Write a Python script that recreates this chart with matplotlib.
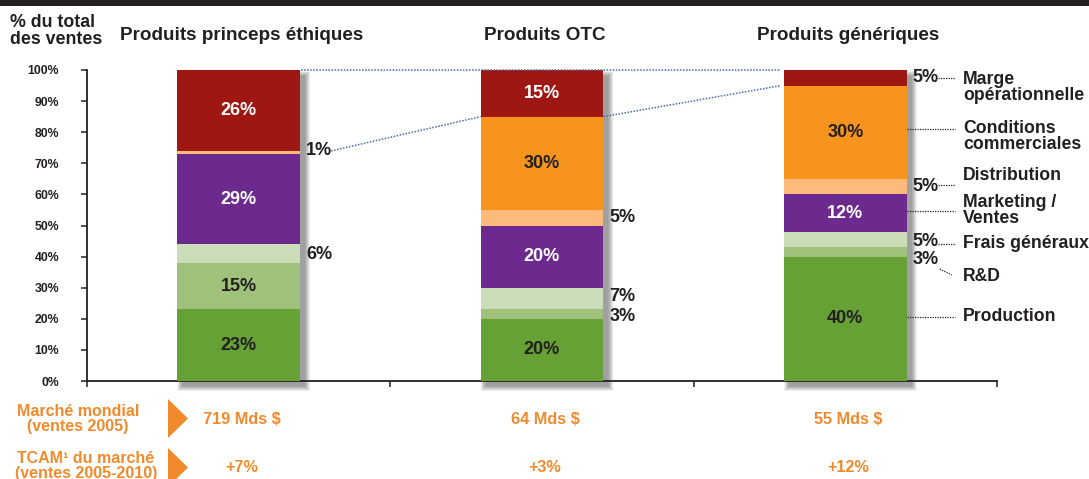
import matplotlib
matplotlib.use('Agg')
import matplotlib.pyplot as plt
import matplotlib.transforms as mtransforms
from matplotlib.patches import Rectangle, Polygon
import numpy as np

plt.rcParams['font.family'] = ['Liberation Sans', 'DejaVu Sans']
plt.rcParams['font.weight'] = 'bold'

# ---------------- data ----------------
categories = ['Produits princeps éthiques', 'Produits OTC', 'Produits génériques']
components = ['Production', 'R&D', 'Frais généraux', 'Marketing /\nVentes',
              'Distribution', 'Conditions\ncommerciales', 'Marge\nopérationnelle']
production = [23, 20, 40]
rnd = [15, 3, 3]
frais_generaux = [6, 7, 5]
marketing = [29, 20, 12]
distribution = [1, 5, 5]
conditions = [0, 30, 30]
marge = [26, 15, 5]
market_size = ['719 Mds $', '64 Mds $', '55 Mds $']
growth = ['+7%', '+3%', '+12%']
ytick_values = [0, 10, 20, 30, 40, 50, 60, 70, 80, 90, 100]

series = [production, rnd, frais_generaux, marketing, distribution, conditions, marge]

# ---------------- style ----------------
colors = ['#66a135', '#9fc17c', '#cbdcb8', '#6d2a8e', '#fdba7a', '#f7941e', '#9e1712']
inside_text_colors = ['#231f20', '#231f20', '#231f20', 'white', '#231f20', '#231f20', 'white']
DARK = '#231f20'
ORANGE = '#f08a2b'
BLUE = '#5066b0'

W, H = 1089, 479
fig = plt.figure(figsize=(W / 100, H / 100), dpi=100)
ax = fig.add_axes([87 / W, 98 / H, 910 / W, 311 / H])
ax.set_xlim(0, 3)
ax.set_ylim(0, 100)

PX = 3 / 910      # data units per pixel (x)
PY = 100 / 311    # data units per pixel (y)

def fy(ypx):
    return 1 - ypx / H

def fx(xpx):
    return xpx / W

blend = mtransforms.blended_transform_factory(ax.transData, fig.transFigure)

n = len(categories)
centers = np.arange(n) + 0.5
bw = 0.405

# shadows
for c in centers:
    x0 = c - bw / 2 + 5 * PX
    x1 = c + bw / 2 + 5 * PX
    y0 = -5 * PY
    y1 = 100 - 6 * PY
    r = 8
    for k in range(r + 1):
        e = r - k
        ax.add_patch(Rectangle((x0 - e * PX * 0.6, y0 - e * PY * 0.6),
                               (x1 - x0) + 2 * e * PX * 0.6, (y1 - y0) + 2 * e * PY * 0.6,
                               facecolor='#3a3a3a', alpha=0.065, linewidth=0,
                               zorder=1, clip_on=False))

# bars
bottoms = np.zeros(n)
mids = []
for vals, col in zip(series, colors):
    vals = np.array(vals, dtype=float)
    ax.bar(centers, vals, width=bw, bottom=bottoms, color=col, linewidth=0, zorder=3)
    mids.append(bottoms + vals / 2)
    bottoms = bottoms + vals

# segment labels
nudges = {(1, 2): 0.7, (1, 1): -0.8, (2, 1): -2.3, (2, 2): -0.6, (0, 4): 0.5, (0, 2): -0.4}
for j, vals in enumerate(series):
    for i, v in enumerate(vals):
        if v == 0:
            continue
        if v >= 10:
            ax.text(centers[i], mids[j][i], f'{v}%', ha='center', va='center',
                    fontsize=13, color=inside_text_colors[j], zorder=5)
        else:
            ax.text(centers[i] + bw / 2 + 6 * PX, mids[j][i] + nudges.get((i, j), 0),
                    f'{v}%', ha='left', va='center', fontsize=13, color=DARK, zorder=5)

# blue dotted connectors
top = bottoms
cond_top = top - np.array(marge)
ax.plot([centers[0] + bw / 2 + 1 * PX, centers[2] - bw / 2 - 3 * PX], [top[0], top[2]],
        color=BLUE, lw=1.1, ls=(0, (1, 1)), zorder=4, clip_on=False)
ax.plot([centers[0] + bw / 2 + 31 * PX, centers[1] - bw / 2], [cond_top[0], cond_top[1]],
        color=BLUE, lw=1.1, ls=(0, (1, 1)), zorder=4, clip_on=False)
ax.plot([centers[1] + bw / 2, centers[2] - bw / 2 - 3 * PX], [cond_top[1], cond_top[2]],
        color=BLUE, lw=1.1, ls=(0, (1, 1)), zorder=4, clip_on=False)

# right-hand legend labels with leaders (layout positions in % units)
legend_text_y = [20.6, 33.5, 44.1, 54.7, 66.2, 78.5, 94.5]
leader_y = [20.6, None, 44.1, 54.7, 63.0, 81.0, 97.3]
x_text = (963 - 87) * PX
x_end = (955 - 87) * PX
for j, name in enumerate(components):
    ax.text(x_text, legend_text_y[j], name, ha='left', va='center', fontsize=12.7,
            color=DARK, linespacing=0.92, clip_on=False)
    v = series[j][2]
    if leader_y[j] is not None:
        xs = centers[2] + bw / 2 + (31 * PX if v < 10 else 0)
        ax.plot([xs, x_end], [leader_y[j], leader_y[j]], color=DARK, lw=0.9,
                ls=(0, (1, 1)), clip_on=False, zorder=4)
    else:
        ax.plot([centers[2] + bw / 2 + 33 * PX, centers[2] + bw / 2 + 45 * PX],
                [36.0, 34.1], color=DARK, lw=0.9, ls=(0, (1, 1)), clip_on=False, zorder=4)

# axes styling
for s in ['top', 'right']:
    ax.spines[s].set_visible(False)
for s in ['left', 'bottom']:
    ax.spines[s].set_color(DARK)
    ax.spines[s].set_linewidth(1.3)
ax.set_yticks(ytick_values)
ax.set_yticklabels([f'{v}%' for v in ytick_values])
ax.set_xticks([0, 1, 2, 3])
ax.set_xticklabels([])
ax.tick_params(axis='y', direction='out', length=4, width=1.1, color=DARK,
               labelsize=8.8, labelcolor=DARK, pad=16)
ax.tick_params(axis='x', direction='out', length=4, width=1.1, color=DARK)
for lab in ax.get_yticklabels():
    lab.set_fontweight('bold')

# titles
for c, t in zip(centers, categories):
    ax.text(c + 3 * PX, fy(35), t, transform=blend, ha='center', va='center',
            fontsize=13.6, color=DARK)
fig.text(fx(10), fy(31), '% du total\ndes ventes', ha='left', va='center',
         fontsize=12.8, color=DARK, linespacing=0.95)

# top black band
fig.patches.append(Rectangle((0, fy(6)), 1, 6 / H, transform=fig.transFigure,
                             facecolor=DARK, linewidth=0))

# bottom rows
fig.text(fx(78), fy(419), 'Marché mondial\n(ventes 2005)', ha='center', va='center',
         fontsize=11.5, color=ORANGE, linespacing=0.95)
fig.text(fx(86), fy(466), 'TCAM¹ du marché\n(ventes 2005-2010)', ha='center', va='center',
         fontsize=11.5, color=ORANGE, linespacing=0.95)
for (ya, yb) in [(399, 438), (448, 487)]:
    tri = Polygon([(fx(168), fy(ya)), (fx(168), fy(yb)), (fx(188), fy((ya + yb) / 2))],
                  closed=True, transform=fig.transFigure, facecolor=ORANGE, linewidth=0)
    fig.patches.append(tri)
for c, m, g in zip(centers, market_size, growth):
    ax.text(c + 3 * PX, fy(420), m, transform=blend, ha='center', va='center',
            fontsize=11.7, color=ORANGE)
    ax.text(c + 3 * PX, fy(467), g, transform=blend, ha='center', va='center',
            fontsize=11.7, color=ORANGE)

fig.savefig('out.png', dpi=100)
